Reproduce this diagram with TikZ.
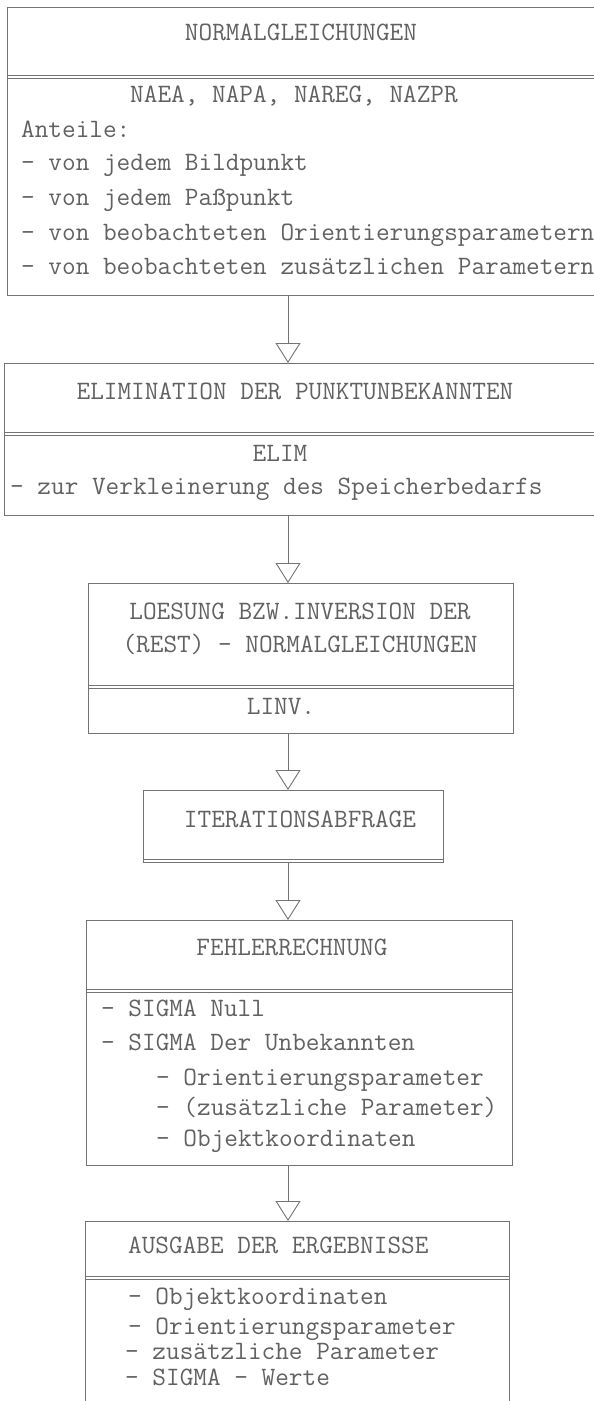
\documentclass[tikz,border=0pt]{standalone}
\usepackage{fontspec}
\usetikzlibrary{arrows.meta}
\definecolor{linec}{gray}{0.45}
\definecolor{textc}{gray}{0.38}
\begin{document}
\begin{tikzpicture}[x=1pt,y=-1pt,
  box/.style={draw=linec,line width=0.9pt,inner sep=0pt,outer sep=0pt,anchor=north west},
  divider/.style={draw=linec,line width=0.8pt},
  conn/.style={draw=linec,line width=0.9pt,-{Triangle[open,length=20pt,width=25pt,line width=0.9pt]}},
  ct/.style={font=\ttfamily\fontsize{26.5}{31}\selectfont,text=textc,inner sep=0pt,anchor=mid},
  lt/.style={ct,anchor=mid west}]
\useasboundingbox (0,0) rectangle (594,1401);
\clip (0,0) rectangle (594,1401);
\fill[white] (0,0) rectangle (594,1401);
\coordinate (ax) at (288,0);

% boxes
\node[box,minimum width=593pt,minimum height=288pt] (b1) at (7,7) {};
\node[box,minimum width=596pt,minimum height=152pt] (b2) at (4,363) {};
\node[box,minimum width=425pt,minimum height=150pt] (b3) at (88,583) {};
\node[box,minimum width=300pt,minimum height=72pt] (b4) at (143,790) {};
\node[box,minimum width=426pt,minimum height=245pt] (b5) at (86,920) {};
\node[box,minimum width=424pt,minimum height=220pt] (b6) at (85,1221) {};

% dividers (double lines)
\draw[divider] (b1.west |- 0,75.5) -- (b1.east |- 0,75.5) (b1.west |- 0,78.5) -- (b1.east |- 0,78.5);
\draw[divider] (b2.west |- 0,432.5) -- (b2.east |- 0,432.5) (b2.west |- 0,435.5) -- (b2.east |- 0,435.5);
\draw[divider] (b3.west |- 0,685.5) -- (b3.east |- 0,685.5) (b3.west |- 0,688.5) -- (b3.east |- 0,688.5);
\draw[divider] (b4.west |- 0,859) -- (b4.east |- 0,859);
\draw[divider] (b5.west |- 0,989.5) -- (b5.east |- 0,989.5) (b5.west |- 0,992.5) -- (b5.east |- 0,992.5);
\draw[divider] (b6.west |- 0,1276.5) -- (b6.east |- 0,1276.5) (b6.west |- 0,1279.5) -- (b6.east |- 0,1279.5);

% connectors
\draw[conn] (b1.south -| ax) -- (b2.north -| ax);
\draw[conn] (b2.south -| ax) -- (b3.north -| ax);
\draw[conn] (b3.south -| ax) -- (b4.north -| ax);
\draw[conn] (b4.south -| ax) -- (b5.north -| ax);
\draw[conn] (b5.south -| ax) -- (b6.north -| ax);

% box 1 text
\node[ct] (t11) at (301,38) {NORMALGLEICHUNGEN};
\node[ct] (t12) at (294,100) {NAEA, NAPA, NAREG, NAZPR};
\node[lt] (t13) at (21,135) {Anteile:};
\node[lt] (t14) at (21,168) {- von jedem Bildpunkt};
\node[lt] (t15) at (21,203) {- von jedem Paßpunkt};
\node[lt] (t16) at (21,238) {- von beobachteten Orientierungsparametern};
\node[lt] (t17) at (21,272) {- von beobachteten zusätzlichen Parametern};

% box 2 text
\node[ct] (t21) at (295,397) {ELIMINATION DER PUNKTUNBEKANNTEN};
\node[ct] (t22) at (280,459) {ELIM};
\node[lt] (t23) at (10,492) {- zur Verkleinerung des Speicherbedarfs};

% box 3 text
\node[ct] (t31) at (300,617) {LOESUNG BZW.INVERSION DER};
\node[ct] (t32) at (300,650) {(REST) - NORMALGLEICHUNGEN};
\node[ct] (t33) at (281,712) {LINV.};

% box 4 text
\node[ct] (t41) at (300,825) {ITERATIONSABFRAGE};

% box 5 text
\node[ct] (t51) at (292,953) {FEHLERRECHNUNG};
\node[lt] (t52) at (101,1014) {- SIGMA Null};
\node[lt] (t53) at (101,1048) {- SIGMA Der Unbekannten};
\node[lt] (t54) at (156,1083) {- Orientierungsparameter};
\node[lt] (t55) at (156,1113) {- (zusätzliche Parameter)};
\node[lt] (t56) at (156,1144) {- Objektkoordinaten};

% box 6 text
\node[lt] (t61) at (128,1251) {AUSGABE DER ERGEBNISSE};
\node[lt] (t62) at (128,1302) {- Objektkoordinaten};
\node[lt] (t63) at (128,1332) {- Orientierungsparameter};
\node[lt] (t64) at (125,1357) {- zusätzliche Parameter};
\node[lt] (t65) at (125,1383) {- SIGMA - Werte};
\end{tikzpicture}
\end{document}
